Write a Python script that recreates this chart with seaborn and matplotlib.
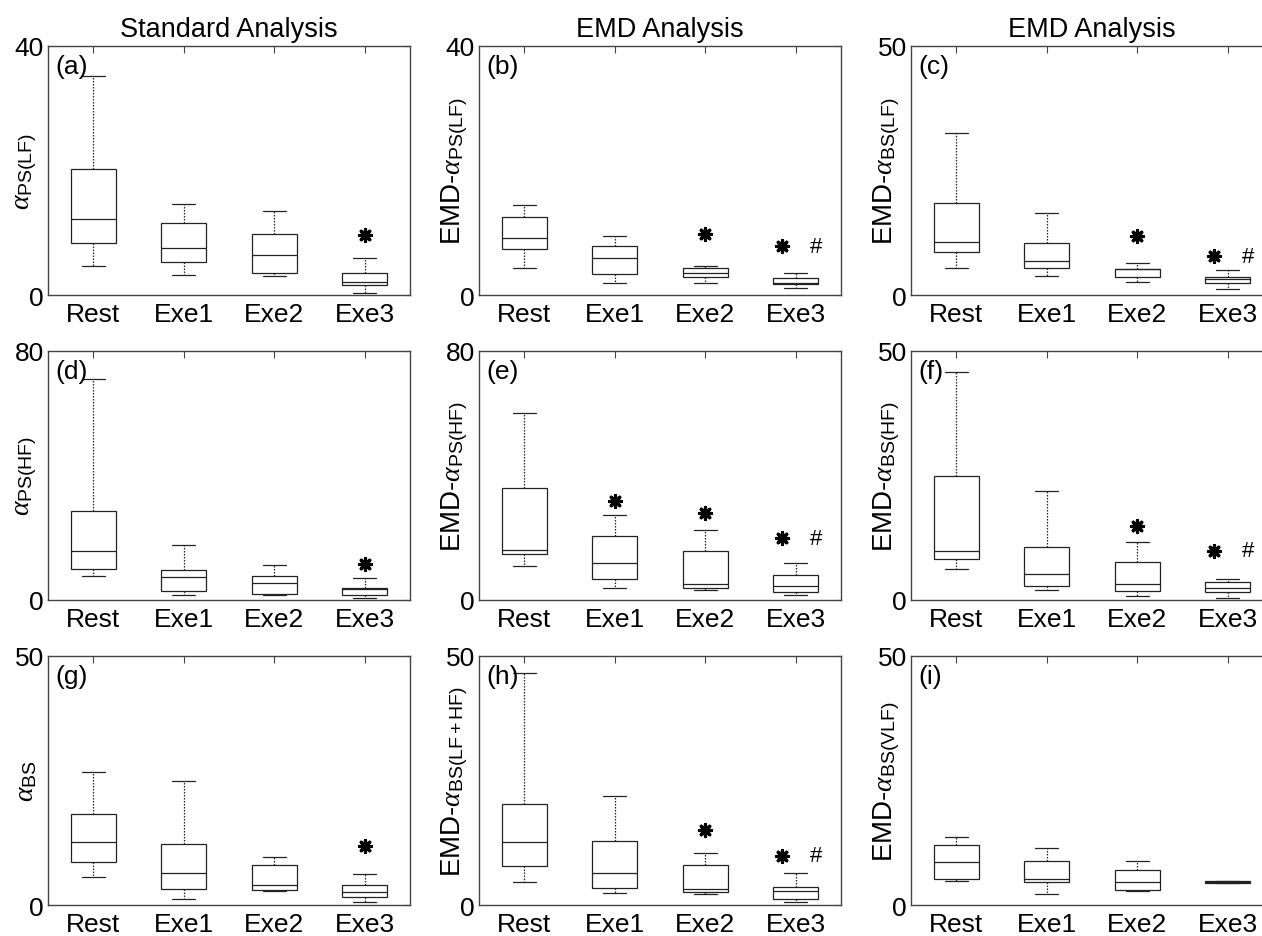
import numpy as np
import pandas as pd
import matplotlib
matplotlib.use("Agg")
import matplotlib.pyplot as plt
import seaborn as sns

# five-number summaries: [whisker low, Q1, median, Q3, whisker high]
groups = ["Rest", "Exe1", "Exe2", "Exe3"]

a_stats = [[4.6, 8.3, 12.2, 20.2, 35.2], [3.2, 5.3, 7.6, 11.6, 14.6],
           [3.0, 3.5, 6.4, 9.8, 13.4], [0.3, 1.6, 2.1, 3.6, 5.9]]
b_stats = [[4.4, 7.4, 9.1, 12.5, 14.5], [2.0, 3.3, 5.9, 7.8, 9.4],
           [1.9, 2.9, 3.6, 4.4, 4.7], [1.2, 1.7, 1.9, 2.8, 3.5]]
c_stats = [[5.5, 8.6, 10.7, 18.5, 32.4], [3.9, 5.5, 6.8, 10.5, 16.4],
           [2.7, 3.7, 5.2, 5.3, 6.4], [1.2, 2.5, 3.3, 3.7, 5.0]]
d_stats = [[7.7, 9.9, 15.6, 28.7, 70.9], [1.6, 2.9, 7.5, 9.5, 17.8],
           [1.5, 1.8, 5.3, 7.7, 11.3], [0.7, 1.5, 3.6, 3.9, 7.2]]
e_stats = [[10.8, 14.7, 16.1, 36.0, 60.1], [3.7, 6.7, 11.8, 20.6, 27.3],
           [3.2, 4.0, 5.0, 15.6, 22.4], [1.5, 2.5, 4.4, 8.1, 12.0]]
f_stats = [[6.2, 8.2, 9.8, 24.8, 45.7], [2.0, 2.9, 5.3, 10.6, 21.9],
           [0.8, 1.9, 3.2, 7.7, 11.6], [0.5, 1.7, 2.4, 3.7, 4.2]]
g_stats = [[5.7, 8.6, 12.6, 18.2, 26.6], [1.3, 3.2, 6.4, 12.2, 24.9],
           [2.8, 3.1, 4.0, 8.1, 9.7], [0.7, 1.7, 2.7, 4.1, 6.3]]
h_stats = [[4.6, 7.8, 12.6, 20.3, 46.5], [2.5, 3.5, 6.4, 12.8, 21.9],
           [2.3, 2.7, 3.2, 8.0, 10.4], [0.7, 1.2, 2.9, 3.7, 6.4]]
i_stats = [[4.8, 5.2, 8.7, 12.0, 13.6], [2.3, 4.7, 5.3, 8.8, 11.4],
           [2.8, 3.1, 4.7, 7.0, 8.8], [4.5, 4.5, 4.7, 4.9, 4.9]]

nan = np.nan
# significance markers: * vs Rest, # vs Exe1 (y position, nan = none)
a_star = [nan, nan, nan, 9.7]
b_star = [nan, nan, 9.8, 7.8]
c_star = [nan, nan, 11.8, 7.8]
d_star = [nan, nan, nan, 11.6]
e_star = [nan, 31.9, 27.8, 19.8]
f_star = [nan, nan, 14.9, 9.9]
g_star = [nan, nan, nan, 11.9]
h_star = [nan, nan, 15.0, 9.9]
i_star = [nan, nan, nan, nan]

b_hash = [nan, nan, nan, 7.8]
c_hash = [nan, nan, nan, 7.8]
e_hash = [nan, nan, nan, 19.8]
f_hash = [nan, nan, nan, 9.9]
h_hash = [nan, nan, nan, 9.9]
none_hash = [nan, nan, nan, nan]

y_max = [40, 40, 50, 80, 80, 50, 50, 50, 50]
letters = ["a", "b", "c", "d", "e", "f", "g", "h", "i"]
ylabels = [r"$\alpha_{\mathrm{PS(LF)}}$", r"EMD-$\alpha_{\mathrm{PS(LF)}}$", r"EMD-$\alpha_{\mathrm{BS(LF)}}$",
           r"$\alpha_{\mathrm{PS(HF)}}$", r"EMD-$\alpha_{\mathrm{PS(HF)}}$", r"EMD-$\alpha_{\mathrm{BS(HF)}}$",
           r"$\alpha_{\mathrm{BS}}$", r"EMD-$\alpha_{\mathrm{BS(LF+HF)}}$", r"EMD-$\alpha_{\mathrm{BS(VLF)}}$"]
col_titles = ["Standard Analysis", "EMD Analysis", "EMD Analysis"]

all_stats = [a_stats, b_stats, c_stats, d_stats, e_stats, f_stats, g_stats, h_stats, i_stats]
all_star = [a_star, b_star, c_star, d_star, e_star, f_star, g_star, h_star, i_star]
all_hash = [none_hash, b_hash, c_hash, none_hash, e_hash, f_hash, none_hash, h_hash, none_hash]

sns.set_style("white")
plt.rcParams["font.family"] = ["Liberation Sans", "DejaVu Sans"]
plt.rcParams["mathtext.fontset"] = "custom"
plt.rcParams["mathtext.rm"] = "Liberation Sans"
plt.rcParams["mathtext.it"] = "Liberation Serif:italic"
plt.rcParams["mathtext.bf"] = "Liberation Sans:bold"
for key in ["text.color", "axes.labelcolor", "xtick.color", "ytick.color"]:
    plt.rcParams[key] = "black"

W, H = 1262, 937
fig = plt.figure(figsize=(W / 100, H / 100), dpi=100)

col_left = [48, 479, 911]
row_top = [46.7, 351.7, 656.7]
ax_w, ax_h = 362, 249.3
edge = "#444444"

for k in range(9):
    r, c = divmod(k, 3)
    ax = fig.add_axes([col_left[c] / W, (H - row_top[r] - ax_h) / H, ax_w / W, ax_h / H])

    # with 5 values and whiskers at min/max, boxplot reproduces the summary exactly
    rows = []
    for g, st in zip(groups, all_stats[k]):
        for v in st:
            rows.append({"group": g, "value": v})
    df = pd.DataFrame(rows)

    sns.boxplot(data=df, x="group", y="value", order=groups, ax=ax,
                whis=(0, 100), width=0.5, color="white", linecolor="#222222",
                linewidth=0.9, showfliers=False,
                whiskerprops=dict(linestyle=(0, (1.2, 1.2))))

    for j in range(4):
        sy, hy = all_star[k][j], all_hash[k][j]
        if not np.isnan(sy):
            dx = -0.155 if not np.isnan(hy) else 0.0
            ax.scatter(j + dx, sy, marker=(8, 2, 0), s=75, linewidths=2.3, color="black", zorder=5)
        if not np.isnan(hy):
            ax.text(j + 0.22, hy, "#", ha="center", va="center", fontsize=16, color="black")

    ax.set_ylim(0, y_max[k])
    ax.set_xlim(-0.5, 3.5)
    ax.set_yticks([0, y_max[k]])
    ax.set_xlabel("")
    ax.set_ylabel(ylabels[k], fontsize=20)
    ax.yaxis.set_label_coords(-0.025, 0.5)
    ax.tick_params(direction="in", top=True, right=True, length=5, width=0.8,
                   color=edge, labelcolor="black", labelsize=19, pad=5)
    ax.tick_params(axis="y", pad=3)
    for sp in ax.spines.values():
        sp.set_color(edge)
        sp.set_linewidth(1.0)
    ax.text(0.02, 0.965, f"({letters[k]})", transform=ax.transAxes,
            ha="left", va="top", fontsize=19)
    if r == 0:
        ax.set_title(col_titles[c], fontsize=19.5, pad=7)

fig.savefig("out.png", dpi=100)
